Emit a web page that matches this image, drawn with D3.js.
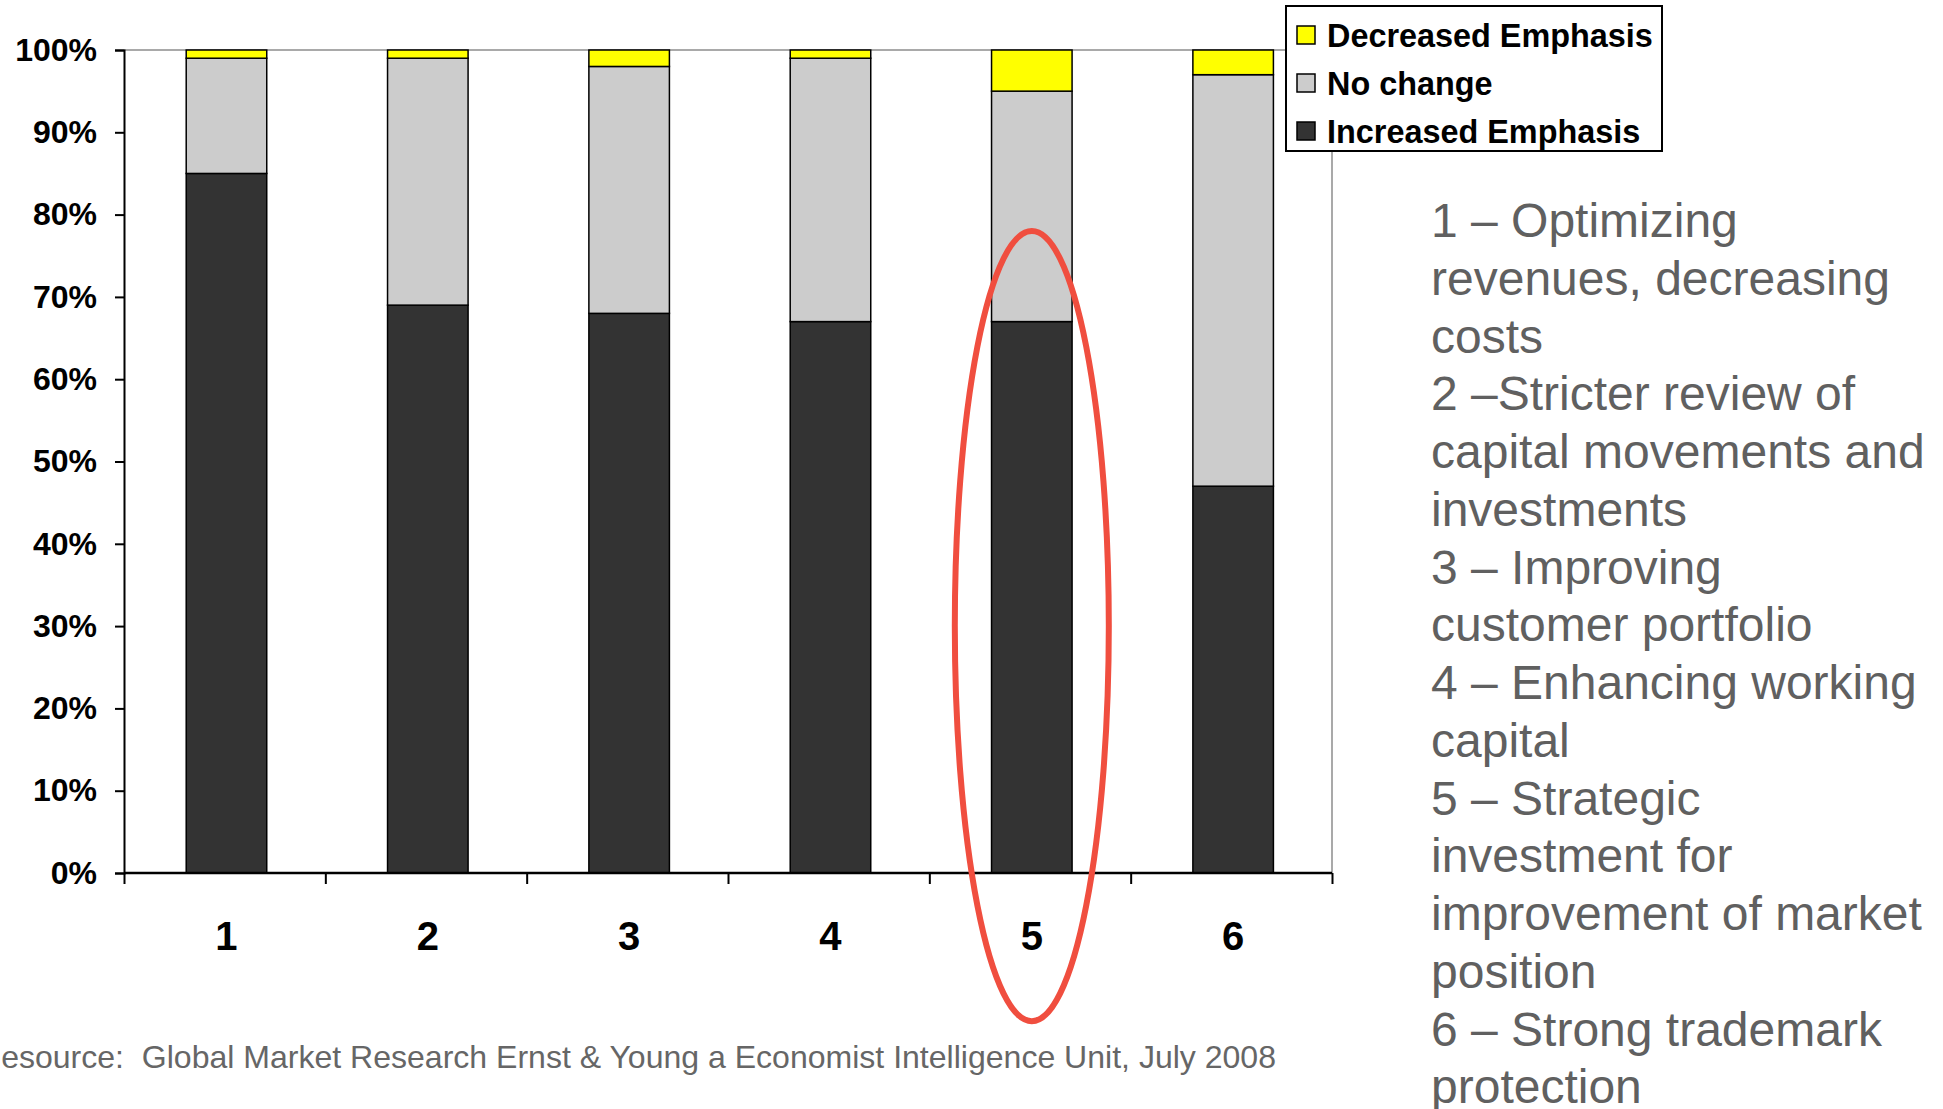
<!DOCTYPE html>
<html>
<head>
<meta charset="utf-8">
<script src="https://cdn.jsdelivr.net/npm/d3@7"></script>
<style>
  html, body { margin: 0; padding: 0; background: #ffffff; }
  svg { display: block; }
</style>
</head>
<body>
<svg id="chart" width="1943" height="1109"></svg>
<script>
// ---------- data ----------
const categories = ["1", "2", "3", "4", "5", "6"];
const increasedEmphasis = [85, 69, 68, 67, 67, 47];
const noChange = [14, 30, 30, 32, 28, 50];
const decreasedEmphasis = [1, 1, 2, 1, 5, 3];
const yTickValues = [0, 10, 20, 30, 40, 50, 60, 70, 80, 90, 100];
const seriesKeys = ["Increased Emphasis", "No change", "Decreased Emphasis"];
const legendOrder = ["Decreased Emphasis", "No change", "Increased Emphasis"];
const descriptionLines = [
  "1 \u2013 Optimizing",
  "revenues, decreasing",
  "costs",
  "2 \u2013Stricter review of",
  "capital movements and",
  "investments",
  "3 \u2013 Improving",
  "customer portfolio",
  "4 \u2013 Enhancing working",
  "capital",
  "5 \u2013 Strategic",
  "investment for",
  "improvement of market",
  "position",
  "6 \u2013 Strong trademark",
  "protection"
];
const sourceText = "Resource:  Global Market Research Ernst & Young a Economist Intelligence Unit, July 2008";
const highlightCategory = "5";

// ---------- styles ----------
const colors = {
  "Increased Emphasis": "#333333",
  "No change": "#cccccc",
  "Decreased Emphasis": "#ffff00"
};
const FONT = "'Liberation Sans', Arial, sans-serif";

const svg = d3.select("#chart");
const plot = { left: 124, right: 1332, top: 50, bottom: 873 };

const table = categories.map((c, i) => ({
  category: c,
  "Increased Emphasis": increasedEmphasis[i],
  "No change": noChange[i],
  "Decreased Emphasis": decreasedEmphasis[i]
}));

const x = d3.scaleBand()
  .domain(categories)
  .range([plot.left, plot.right])
  .paddingInner(0.6)
  .paddingOuter(0.3)
  .align(0.515);

const y = d3.scaleLinear()
  .domain([0, 100])
  .range([plot.bottom, plot.top]);

// boundary scale for category tick marks
const xb = d3.scaleLinear().domain([0, categories.length]).range([plot.left, plot.right]);

// plot area border (top and right, gray)
svg.append("line")
  .attr("x1", plot.left).attr("x2", plot.right)
  .attr("y1", y(100)).attr("y2", y(100))
  .attr("stroke", "#8c8c8c").attr("stroke-width", 1.5);
svg.append("line")
  .attr("x1", plot.right).attr("x2", plot.right)
  .attr("y1", y(100)).attr("y2", y(0))
  .attr("stroke", "#8c8c8c").attr("stroke-width", 1.5);

// stacked bars
const stacked = d3.stack().keys(seriesKeys)(table);
svg.append("g")
  .selectAll("g")
  .data(stacked)
  .join("g")
  .attr("fill", d => colors[d.key])
  .selectAll("rect")
  .data(d => d)
  .join("rect")
  .attr("x", d => x(d.data.category))
  .attr("width", x.bandwidth())
  .attr("y", d => y(d[1]))
  .attr("height", d => y(d[0]) - y(d[1]))
  .attr("stroke", "#000")
  .attr("stroke-width", 1.5);

// Y axis
const yAxis = svg.append("g")
  .attr("transform", `translate(${plot.left},0)`)
  .call(d3.axisLeft(y).tickValues(yTickValues).tickFormat(d => d + "%").tickSize(9).tickPadding(18));
yAxis.select(".domain").attr("stroke", "#000").attr("stroke-width", 2);
yAxis.selectAll(".tick line").attr("stroke", "#000").attr("stroke-width", 2);
yAxis.selectAll("text")
  .attr("font-family", FONT).attr("font-size", 32).attr("font-weight", "bold")
  .attr("fill", "#000");

// X axis: tick marks at category boundaries
const xTickAxis = svg.append("g")
  .attr("transform", `translate(0,${plot.bottom})`)
  .call(d3.axisBottom(xb).tickValues(d3.range(categories.length + 1)).tickSize(11).tickFormat(""));
xTickAxis.select(".domain").attr("stroke", "#000").attr("stroke-width", 2.5)
  .attr("d", `M${plot.left},0H${plot.right}`);
xTickAxis.selectAll(".tick line").attr("stroke", "#000").attr("stroke-width", 2);

// X axis labels at band centres
const xLabelAxis = svg.append("g")
  .attr("transform", `translate(0,${plot.bottom})`)
  .call(d3.axisBottom(x).tickSize(0).tickPadding(48.5));
xLabelAxis.select(".domain").remove();
xLabelAxis.selectAll("text")
  .attr("font-family", FONT).attr("font-size", 40).attr("font-weight", "bold")
  .attr("fill", "#000");

// Legend
const legend = svg.append("g");
legend.append("rect")
  .attr("x", 1286).attr("y", 6).attr("width", 376).attr("height", 145)
  .attr("fill", "#fff").attr("stroke", "#000").attr("stroke-width", 2);
const legendItems = legend.selectAll("g.item")
  .data(legendOrder)
  .join("g")
  .attr("class", "item")
  .attr("transform", (d, i) => `translate(1297,${35 + i * 48})`);
legendItems.append("rect")
  .attr("x", 0).attr("y", -9).attr("width", 18).attr("height", 18)
  .attr("fill", d => colors[d]).attr("stroke", "#000").attr("stroke-width", 1.5);
legendItems.append("text")
  .attr("x", 30).attr("y", 0).attr("dy", "0.36em")
  .attr("font-family", FONT).attr("font-size", 32.4).attr("font-weight", "bold")
  .attr("fill", "#000")
  .text(d => d);

// Highlight ellipse around category 5
const cx = x(highlightCategory) + x.bandwidth() / 2;
const ellTop = y(78), ellBottom = y(-18);
svg.append("ellipse")
  .attr("cx", cx)
  .attr("cy", (ellTop + ellBottom) / 2)
  .attr("rx", 77)
  .attr("ry", (ellBottom - ellTop) / 2)
  .attr("fill", "none")
  .attr("stroke", "#f04e3f")
  .attr("stroke-width", 6);

// Description text on the right
svg.append("g")
  .selectAll("text")
  .data(descriptionLines)
  .join("text")
  .attr("x", 1431)
  .attr("y", (d, i) => 237 + i * 57.75)
  .attr("font-family", FONT).attr("font-size", 48)
  .attr("fill", "#606060")
  .text(d => d);

// Source line (double space preserved)
svg.append("text")
  .attr("x", -22).attr("y", 1068)
  .attr("font-family", FONT).attr("font-size", 32)
  .attr("fill", "#666666")
  .style("white-space", "pre")
  .attr("textLength", 1298)
  .attr("lengthAdjust", "spacingAndGlyphs")
  .text(sourceText);
</script>
</body>
</html>
